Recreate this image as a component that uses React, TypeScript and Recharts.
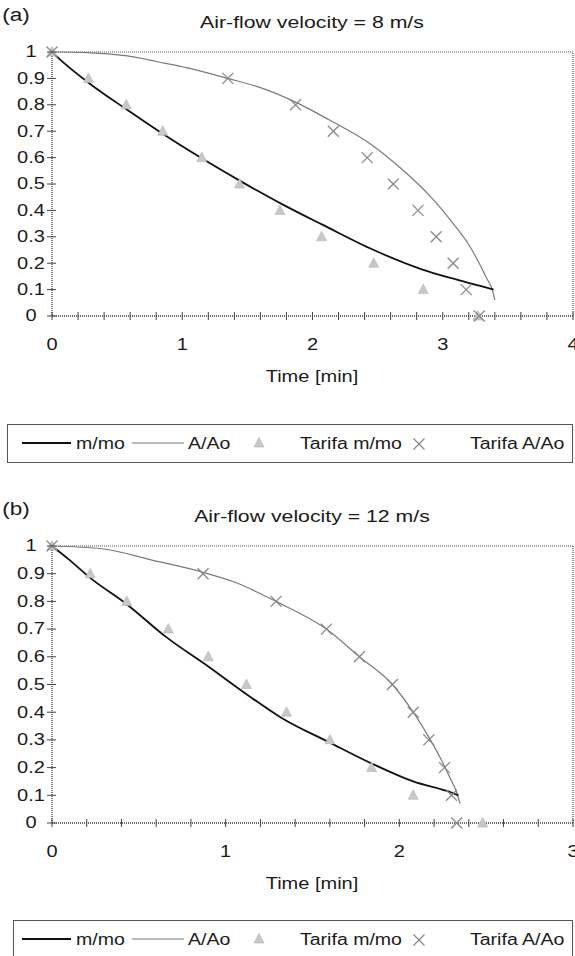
import React from "react";
import { ComposedChart, Line, Scatter, XAxis, YAxis, ReferenceLine } from "recharts";

// Drying of a particle: m/mo and A/Ao vs time, model curves + Tarifa data.
const FONT = '"Liberation Sans", Arial, sans-serif';

const levels = [1, 0.9, 0.8, 0.7, 0.6, 0.5, 0.4, 0.3, 0.2, 0.1, 0];

// (a) air-flow 8 m/s
const tarifaMmoTimeA = [0, 0.28, 0.57, 0.85, 1.15, 1.44, 1.75, 2.07, 2.47, 2.85, 3.27];
const tarifaAaoTimeA = [0, 1.35, 1.87, 2.16, 2.42, 2.62, 2.81, 2.95, 3.08, 3.18, 3.28];
const mmoTimeA = [0, 0.1, 0.29, 0.58, 0.85, 1.14, 1.45, 1.78, 2.08, 2.47, 2.85, 3.06, 3.39];
const mmoValueA = [1, 0.955, 0.88, 0.78, 0.69, 0.6, 0.51, 0.42, 0.345, 0.25, 0.175, 0.144, 0.1];
const aaoTimeA = [0, 0.27, 0.58, 0.81, 1.04, 1.35, 1.6, 1.87, 2.12, 2.45, 2.7, 2.91, 3.08, 3.2, 3.28, 3.34, 3.38, 3.4];
const aaoValueA = [1, 0.998, 0.985, 0.963, 0.94, 0.9, 0.865, 0.81, 0.745, 0.65, 0.55, 0.45, 0.35, 0.27, 0.2, 0.14, 0.1, 0.06];

// (b) air-flow 12 m/s
const tarifaMmoTimeB = [0, 0.22, 0.43, 0.67, 0.9, 1.12, 1.35, 1.6, 1.84, 2.08, 2.48];
const tarifaAaoTimeB = [0, 0.87, 1.29, 1.58, 1.77, 1.96, 2.08, 2.17, 2.26, 2.3, 2.33];
const mmoTimeB = [0, 0.1, 0.22, 0.43, 0.66, 0.9, 1.12, 1.32, 1.6, 1.84, 2.08, 2.3, 2.34];
const mmoValueB = [1, 0.95, 0.885, 0.79, 0.67, 0.565, 0.465, 0.38, 0.29, 0.215, 0.15, 0.11, 0.1];
const aaoTimeB = [0, 0.29, 0.57, 0.87, 1.05, 1.29, 1.58, 1.77, 1.96, 2.08, 2.17, 2.24, 2.29, 2.33, 2.35];
const aaoValueB = [1, 0.99, 0.95, 0.905, 0.87, 0.8, 0.7, 0.6, 0.5, 0.4, 0.31, 0.23, 0.165, 0.11, 0.07];

const xTicksA = [0, 0.2, 0.4, 0.6, 0.8, 1, 1.2, 1.4, 1.6, 1.8, 2, 2.2, 2.4, 2.6, 2.8, 3, 3.2, 3.4, 3.6, 3.8, 4];
const xTicksB = [0, 0.2, 0.4, 0.6, 0.8, 1, 1.2, 1.4, 1.6, 1.8, 2, 2.2, 2.4, 2.6, 2.8, 3];
const yTicks = [0, 0.1, 0.2, 0.3, 0.4, 0.5, 0.6, 0.7, 0.8, 0.9, 1];
const legendLabels = ["m/mo", "A/Ao", "Tarifa m/mo", "Tarifa A/Ao"];

const pts = (ts: number[], vs: number[]) => ts.map((t, i) => ({ t, v: vs[i] }));

const AXIS = { stroke: "#3a3a3a", strokeWidth: 1.3, strokeDasharray: "1 1" };

function Triangle({ cx, cy }: any) {
  if (cx == null || cy == null) return null;
  return <path d={`M${cx},${cy - 5.5} L${cx + 5},${cy + 4} L${cx - 5},${cy + 4} Z`} fill="#c8c8c8" stroke="#b4b4b4" strokeWidth={0.6} />;
}

function Cross({ cx, cy }: any) {
  if (cx == null || cy == null) return null;
  const s = 5.5;
  return (
    <g stroke="#8a8a8a" strokeWidth={1.3}>
      <line x1={cx - s} y1={cy - s} x2={cx + s} y2={cy + s} />
      <line x1={cx - s} y1={cy + s} x2={cx + s} y2={cy - s} />
    </g>
  );
}

function XTick({ x, y, payload }: any) {
  const v = payload.value;
  const whole = Math.abs(v - Math.round(v)) < 1e-6;
  return (
    <g>
      <line x1={x} x2={x} y1={y - 4} y2={y + 4} stroke="#444" strokeWidth={1} />
      {whole && (
        <text transform={`translate(${x},${y + 29}) scale(1.25,1)`} textAnchor="middle" dominantBaseline="central"
          fontFamily={FONT} fontSize={16} fill="#1a1a1a">{Math.round(v)}</text>
      )}
    </g>
  );
}

function YTick({ x, y, payload }: any) {
  const v = payload.value;
  return (
    <g>
      <line x1={x - 5} x2={x + 4} y1={y} y2={y} stroke="#444" strokeWidth={1} />
      <text transform={`translate(31,${y}) scale(1.25,1)`} textAnchor="middle" dominantBaseline="central"
        fontFamily={FONT} fontSize={16} fill="#1a1a1a">{+v.toFixed(1)}</text>
    </g>
  );
}

function Txt({ x, y, text, size = 16, left = false }: { x: number; y: number; text: string; size?: number; left?: boolean }) {
  return (
    <span style={{
      position: "absolute", left: x, top: y, fontFamily: FONT, fontSize: size, lineHeight: 1, whiteSpace: "nowrap", color: "#1a1a1a",
      transformOrigin: left ? "left center" : "center center",
      transform: left ? "translate(0,-50%) scaleX(1.22)" : "translate(-50%,-50%) scaleX(1.25)",
    }}>{text}</span>
  );
}

function LegendBox({ left, height }: { left: number; height: number }) {
  const cy = 19;
  const dx = 7 - left;
  return (
    <div style={{ position: "absolute", left, top: 0, width: 573 - left, height, border: "1px solid #555", boxSizing: "border-box" }}>
      <svg width={573 - left} height={height} style={{ position: "absolute", left: -1, top: -1 }}>
        <line x1={15 + dx} x2={64 + dx} y1={cy} y2={cy} stroke="#111" strokeWidth={1.8} />
        <line x1={125 + dx} x2={177 + dx} y1={cy} y2={cy} stroke="#7a7a7a" strokeWidth={1.2} />
        <Triangle cx={252 + dx} cy={cy} />
        <Cross cx={412 + dx} cy={cy + 1} />
      </svg>
      <Txt x={68 + dx} y={cy} text={legendLabels[0]} left />
      <Txt x={180 + dx} y={cy} text={legendLabels[1]} left />
      <Txt x={292 + dx} y={cy} text={legendLabels[2]} left />
      <Txt x={462 + dx} y={cy} text={legendLabels[3]} left />
    </div>
  );
}

interface PanelProps {
  tag: string;
  title: string;
  top: number;
  height: number;
  plotTop: number;
  plotBottom: number;
  xMax: number;
  xTicks: number[];
  mmo: { t: number; v: number }[];
  aao: { t: number; v: number }[];
  tarifaMmo: { t: number; v: number }[];
  tarifaAao: { t: number; v: number }[];
  legendLeft: number;
  legendTop: number;
  legendHeight: number;
}

function Panel(p: PanelProps) {
  const xAxisH = 30;
  return (
    <div style={{ position: "absolute", left: 0, top: p.top, width: 575, height: p.height }}>
      <ComposedChart width={575} height={p.height}
        margin={{ top: p.plotTop, right: 2, left: 0, bottom: p.height - p.plotBottom - xAxisH }}>
        <XAxis dataKey="t" type="number" domain={[0, p.xMax]} ticks={p.xTicks} interval={0}
          height={xAxisH} tickSize={0} tickMargin={0} tickLine={false} axisLine={AXIS} tick={<XTick />} />
        <YAxis dataKey="v" type="number" domain={[0, 1]} ticks={yTicks} interval={0}
          width={52} tickSize={0} tickMargin={0} tickLine={false} axisLine={AXIS} tick={<YTick />} />
        <ReferenceLine y={1} stroke="#555" strokeWidth={1.2} strokeDasharray="1 1" />
        <ReferenceLine x={p.xMax} stroke="#555" strokeWidth={1.2} strokeDasharray="1 1" />
        <Line data={p.aao} dataKey="v" type="monotone" stroke="#7a7a7a" strokeWidth={1.2} dot={false} isAnimationActive={false} />
        <Line data={p.mmo} dataKey="v" type="monotone" stroke="#111" strokeWidth={1.8} dot={false} isAnimationActive={false} />
        <Scatter data={p.tarifaMmo} dataKey="v" shape={<Triangle />} isAnimationActive={false} />
        <Scatter data={p.tarifaAao} dataKey="v" shape={<Cross />} isAnimationActive={false} />
      </ComposedChart>
      <Txt x={16} y={p.plotTop - 37} text={p.tag} size={18} />
      <Txt x={312} y={p.plotTop - 30} text={p.title} size={17} />
      <Txt x={312} y={p.plotBottom + 61} text="Time [min]" size={16} />
      <div style={{ position: "absolute", left: 0, top: p.legendTop - p.top }}>
        <LegendBox left={p.legendLeft} height={p.legendHeight} />
      </div>
    </div>
  );
}

export default function App() {
  return (
    <div style={{ position: "absolute", left: 0, top: 0, width: 575, height: 956, overflow: "hidden", background: "#fff" }}>
      <Panel tag="(a)" title="Air-flow velocity = 8 m/s" top={0} height={470} plotTop={52} plotBottom={316}
        xMax={4} xTicks={xTicksA} mmo={pts(mmoTimeA, mmoValueA)} aao={pts(aaoTimeA, aaoValueA)}
        tarifaMmo={pts(tarifaMmoTimeA, levels)} tarifaAao={pts(tarifaAaoTimeA, levels)}
        legendLeft={7} legendTop={424} legendHeight={39} />
      <Panel tag="(b)" title="Air-flow velocity = 12 m/s" top={470} height={486} plotTop={76} plotBottom={353}
        xMax={3} xTicks={xTicksB} mmo={pts(mmoTimeB, mmoValueB)} aao={pts(aaoTimeB, aaoValueB)}
        tarifaMmo={pts(tarifaMmoTimeB, levels)} tarifaAao={pts(tarifaAaoTimeB, levels)}
        legendLeft={13} legendTop={920} legendHeight={50} />
    </div>
  );
}
